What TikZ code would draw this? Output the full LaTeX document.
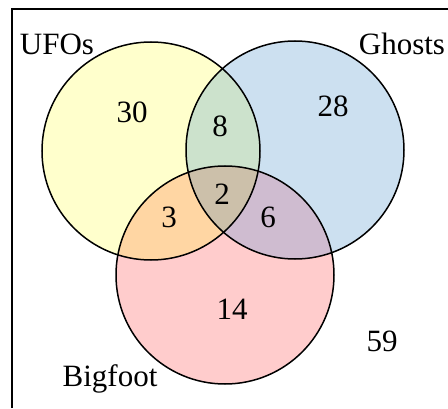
\documentclass[tikz,border=0pt]{standalone}
\usepackage{fontspec}
\setmainfont{Liberation Serif}
\definecolor{cU}{RGB}{255,255,204}
\definecolor{cG}{RGB}{204,224,240}
\definecolor{cB}{RGB}{255,204,204}
\definecolor{cUG}{RGB}{204,226,204}
\definecolor{cUB}{RGB}{255,214,163}
\definecolor{cGB}{RGB}{207,188,208}
\definecolor{cUGB}{RGB}{204,192,170}
\begin{document}
\begin{tikzpicture}[x=1pt,y=1pt,
  lbl/.style={font=\fontsize{31}{31}\selectfont, inner sep=0pt, anchor=base},
  ring/.style={draw=black, line width=1.5pt}]
\useasboundingbox (0,0) rectangle (448,408);
\coordinate (U) at (151,257);
\coordinate (G) at (295,258);
\coordinate (B) at (225,133);
\def\R{109}
% base fills
\fill[cU] (U) circle (\R);
\fill[cG] (G) circle (\R);
\fill[cB] (B) circle (\R);
% pairwise overlaps
\begin{scope}\clip (U) circle (\R); \fill[cUG] (G) circle (\R); \end{scope}
\begin{scope}\clip (U) circle (\R); \fill[cUB] (B) circle (\R); \end{scope}
\begin{scope}\clip (G) circle (\R); \fill[cGB] (B) circle (\R); \end{scope}
\begin{scope}\clip (U) circle (\R); \clip (G) circle (\R); \fill[cUGB] (B) circle (\R); \end{scope}
% outlines
\draw[ring] (U) circle (\R);
\draw[ring] (G) circle (\R);
\draw[ring] (B) circle (\R);
% frame (left and top edges visible)
\coordinate (f1) at (12,0);
\coordinate (f2) at (12,399);
\coordinate (f3) at (448,399);
\draw[line width=2pt] (f1) -- (f2) -- (f3);
% labels
\node[lbl] (tU) at (57,353) {UFOs};
\node[lbl] (tG) at (402,353) {Ghosts};
\node[lbl] (tB) at (110,22) {Bigfoot};
\node[lbl] (n30) at (132,285) {30};
\node[lbl] (n28) at (333,291) {28};
\node[lbl] (n8) at (220,271) {8};
\node[lbl] (n2) at (222,204) {2};
\node[lbl] (n3) at (169,180) {3};
\node[lbl] (n6) at (268,180) {6};
\node[lbl] (n14) at (232,89) {14};
\node[lbl] (n59) at (382,57) {59};
\end{tikzpicture}
\end{document}
